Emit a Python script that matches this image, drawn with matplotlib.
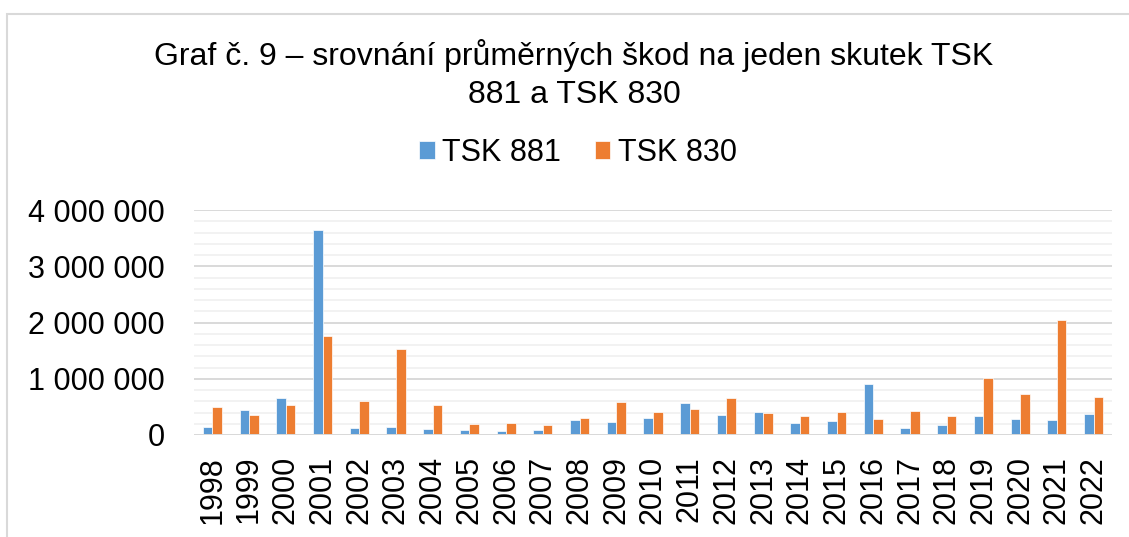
import matplotlib
matplotlib.use("Agg")
import matplotlib.pyplot as plt
import numpy as np
from matplotlib.patches import Rectangle
from matplotlib.ticker import FuncFormatter, MultipleLocator

plt.rcParams['font.family'] = ['Liberation Sans', 'DejaVu Sans']

# data
years = ['1998', '1999', '2000', '2001', '2002', '2003', '2004', '2005', '2006',
         '2007', '2008', '2009', '2010', '2011', '2012', '2013', '2014', '2015',
         '2016', '2017', '2018', '2019', '2020', '2021', '2022']
tsk_881 = [136000, 440000, 650000, 3640000, 130000, 136000, 110000, 90000, 65000,
           90000, 270000, 240000, 300000, 570000, 350000, 410000, 220000, 250000,
           910000, 120000, 180000, 340000, 280000, 270000, 380000]
tsk_830 = [490000, 350000, 530000, 1760000, 610000, 1530000, 540000, 190000, 210000,
           180000, 310000, 580000, 410000, 470000, 660000, 390000, 340000, 410000,
           290000, 420000, 340000, 1020000, 730000, 2050000, 680000]
series_names = ['TSK 881', 'TSK 830']
title_lines = ['Graf č. 9 – srovnání průměrných škod na jeden skutek TSK',
               '881 a TSK 830']

BLUE = '#5B9BD5'
ORANGE = '#ED7D31'
W, H = 1129, 537

fig = plt.figure(figsize=(W / 100, H / 100), dpi=100)

# light chart border (top and left visible, rest cropped)
fig.patches.append(Rectangle((7 / W, -0.1), 1.2, 1 - 14 / H + 0.1,
                             transform=fig.transFigure, fill=False,
                             edgecolor='#D9D9D9', lw=1.5))

ax = fig.add_axes([194 / W, (H - 435) / H, (1112 - 194) / W, (435 - 210) / H])

x = np.arange(len(years))
bw = 0.26
ax.bar(x - bw / 2, tsk_881, bw, color=BLUE, edgecolor='white', linewidth=0.5,
       label=series_names[0], zorder=3)
ax.bar(x + bw / 2, tsk_830, bw, color=ORANGE, edgecolor='white', linewidth=0.5,
       label=series_names[1], zorder=3)

ax.set_xlim(-0.5, len(years) - 0.5)
ax.set_ylim(0, 4000000)
ax.yaxis.set_major_locator(MultipleLocator(1000000))
ax.yaxis.set_minor_locator(MultipleLocator(200000))
ax.yaxis.set_major_formatter(FuncFormatter(lambda v, p: f"{int(v):,}".replace(",", " ")))
ax.grid(True, which='minor', axis='y', color='#F0F0F0', lw=1.2, zorder=0)
ax.grid(True, which='major', axis='y', color='#D9D9D9', lw=1.4, zorder=1)
ax.set_axisbelow(True)

ax.set_xticks(x)
ax.set_xticklabels(years, rotation=90)
ax.tick_params(axis='y', which='both', length=0, pad=21, labelsize=22)
ax.tick_params(axis='x', length=0, pad=15, labelsize=22)
for s in ax.spines.values():
    s.set_visible(False)
ax.axhline(0, color='#D9D9D9', lw=1.4, zorder=4)

fig.text(574 / W, 1 - 65 / H, title_lines[0], ha='center', va='baseline', fontsize=23)
fig.text(574 / W, 1 - 103 / H, title_lines[1], ha='center', va='baseline', fontsize=23)

fig.legend(loc='center', bbox_to_anchor=(578 / W, 1 - 153 / H), ncol=2, frameon=False,
           fontsize=22, handlelength=0.5, handleheight=0.5, handletextpad=0.25,
           columnspacing=1.1, borderpad=0)

fig.savefig('out.png', dpi=100)
